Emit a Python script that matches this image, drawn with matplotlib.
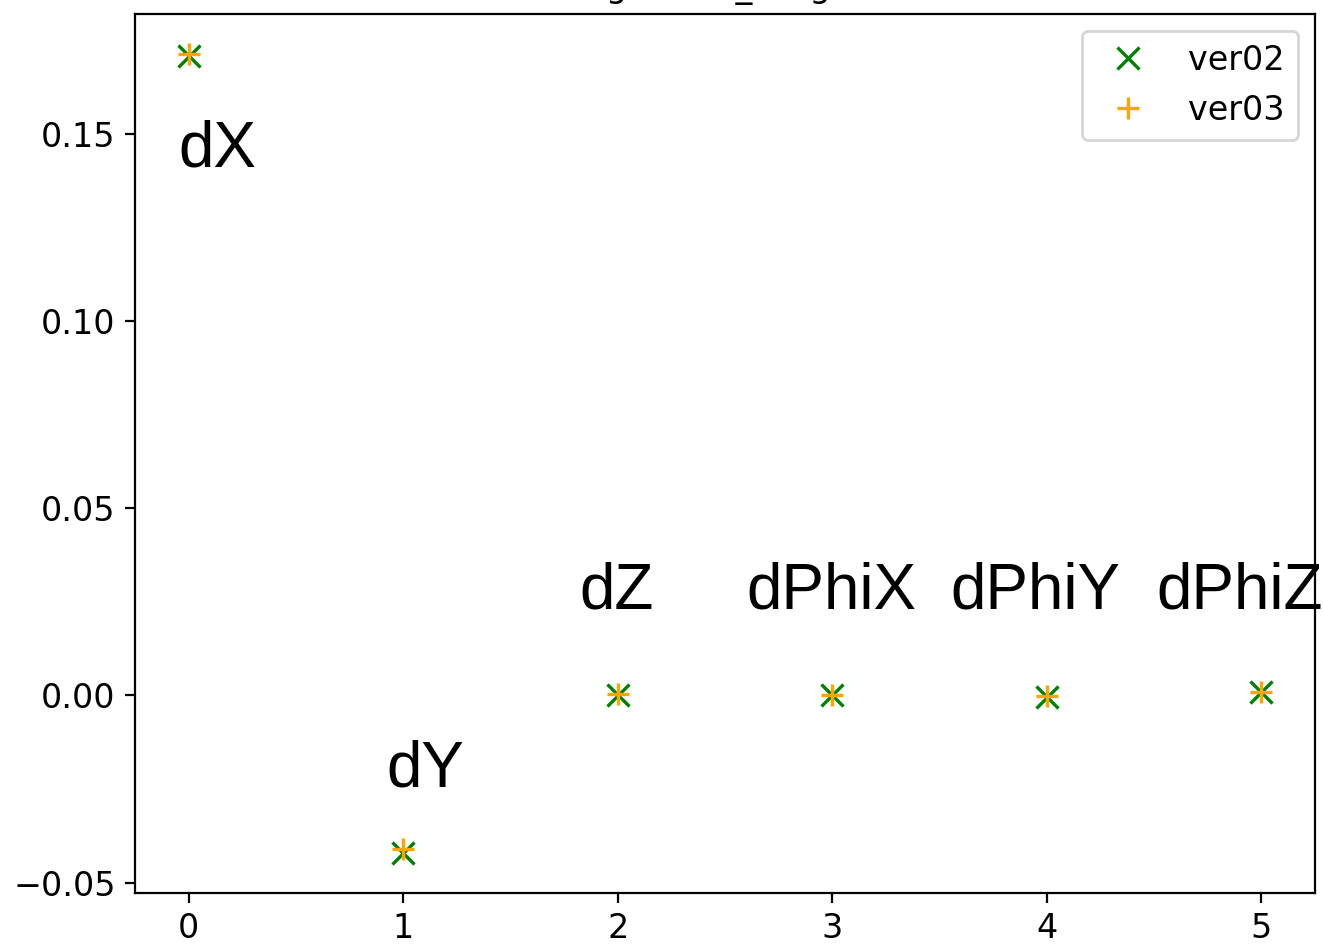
import numpy as np
import matplotlib
matplotlib.use("Agg")
import matplotlib.pyplot as plt

params = ["dX", "dY", "dZ", "dPhiX", "dPhiY", "dPhiZ"]
ver02 = [0.1709, -0.0421, 0.0001, 0.0001, -0.0003, 0.0008]
ver03 = [0.1714, -0.0410, 0.0005, 0.0002, -0.0001, 0.0010]

# where the parameter names sit (data coords, left/baseline)
label_x = [-0.05, 0.92, 1.82, 2.60, 3.55, 4.51]
label_y = [0.1412, -0.0243, 0.0233, 0.0233, 0.0233, 0.0233]

x = np.arange(len(params))

fig = plt.figure(figsize=(1323 / 200, 944 / 200), dpi=200)
ax = fig.add_axes([135 / 1323, 1 - 893 / 944, 1180 / 1323, 879 / 944])

ax.plot(x, ver02, "x", color="green", markersize=8, markeredgewidth=1.2, label="ver02")
ax.plot(x, ver03, "+", color="orange", markersize=8, markeredgewidth=1.2, label="ver03")

for i, name in enumerate(params):
    ax.text(label_x[i], label_y[i], name, fontsize=23, family="Liberation Sans",
            ha="left", va="baseline", clip_on=False)

ax.set_yticks([-0.05, 0.0, 0.05, 0.10, 0.15])
ax.tick_params(labelsize=12)
ax.set_title("alignment_weights", fontsize=12)
ax.legend(loc="upper right", fontsize=12)

fig.savefig("out.png", dpi=200)
